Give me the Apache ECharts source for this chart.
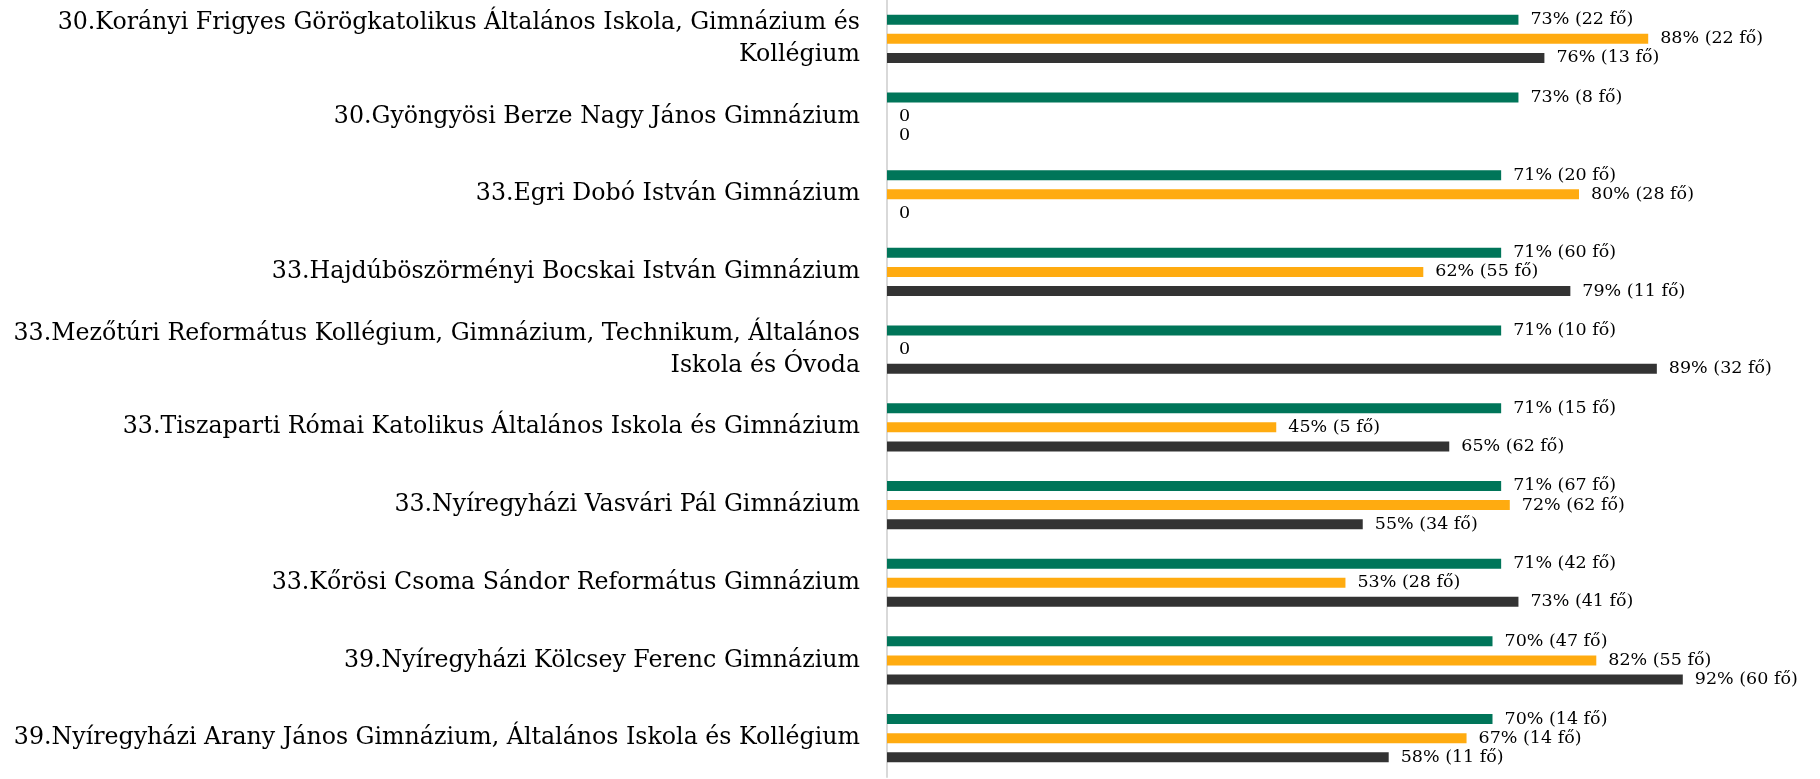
<!DOCTYPE html>
<html>
<head>
<meta charset="utf-8">
<script src="https://cdn.jsdelivr.net/npm/echarts@6/dist/echarts.min.js"></script>
<style>
  html, body { margin: 0; padding: 0; background: #fff; }
  #main { width: 1820px; height: 779px; }
</style>
</head>
<body>
<div id="main"></div>
<script>
// schools (top to bottom)
const schools = [
  '30.Korányi Frigyes Görögkatolikus Általános Iskola, Gimnázium és\nKollégium',
  '30.Gyöngyösi Berze Nagy János Gimnázium',
  '33.Egri Dobó István Gimnázium',
  '33.Hajdúböszörményi Bocskai István Gimnázium',
  '33.Mezőtúri Református Kollégium, Gimnázium, Technikum, Általános\nIskola és Óvoda',
  '33.Tiszaparti Római Katolikus Általános Iskola és Gimnázium',
  '33.Nyíregyházi Vasvári Pál Gimnázium',
  '33.Kőrösi Csoma Sándor Református Gimnázium',
  '39.Nyíregyházi Kölcsey Ferenc Gimnázium',
  '39.Nyíregyházi Arany János Gimnázium, Általános Iskola és Kollégium'
];

// percentages
const greenPct  = [73, 73, 71, 71, 71, 71, 71, 71, 70, 70];
const orangePct = [88, 0, 80, 62, 0, 45, 72, 53, 82, 67];
const darkPct   = [76, 0, 0, 79, 89, 65, 55, 73, 92, 58];

// head counts (fő)
const greenN  = [22, 8, 20, 60, 10, 15, 67, 42, 47, 14];
const orangeN = [22, 0, 28, 55, 0, 5, 62, 28, 55, 14];
const darkN   = [13, 0, 0, 11, 32, 62, 34, 41, 60, 11];

const myChart = echarts.init(document.getElementById('main'));

const font = 'DejaVu Serif';

function makeSeries(name, color, pct, counts) {
  return {
    name: name,
    type: 'bar',
    data: pct,
    barWidth: 10,
    barGap: '91%',
    itemStyle: { color: color },
    label: {
      show: true,
      position: 'right',
      distance: 12,
      fontFamily: font,
      fontSize: 17.5,
      color: '#000',
      formatter: p => p.value === 0 ? '0' : p.value + '% (' + counts[p.dataIndex] + ' fő)'
    }
  };
}

const option = {
  animation: false,
  grid: { left: 887, right: 68, top: -4, height: 781, containLabel: false },
  xAxis: {
    type: 'value',
    min: 0,
    max: 100,
    show: false
  },
  yAxis: {
    type: 'category',
    data: schools,
    inverse: true,
    axisLine: { lineStyle: { color: '#d9d9d9', width: 2 } },
    axisTick: { show: false },
    axisLabel: {
      margin: 27,
      fontFamily: font,
      fontSize: 23.7,
      lineHeight: 32,
      color: '#000',
      align: 'right'
    }
  },
  series: [
    makeSeries('A', '#007559', greenPct, greenN),
    makeSeries('B', '#ffab10', orangePct, orangeN),
    makeSeries('C', '#333333', darkPct, darkN)
  ]
};

myChart.setOption(option);
</script>
</body>
</html>
